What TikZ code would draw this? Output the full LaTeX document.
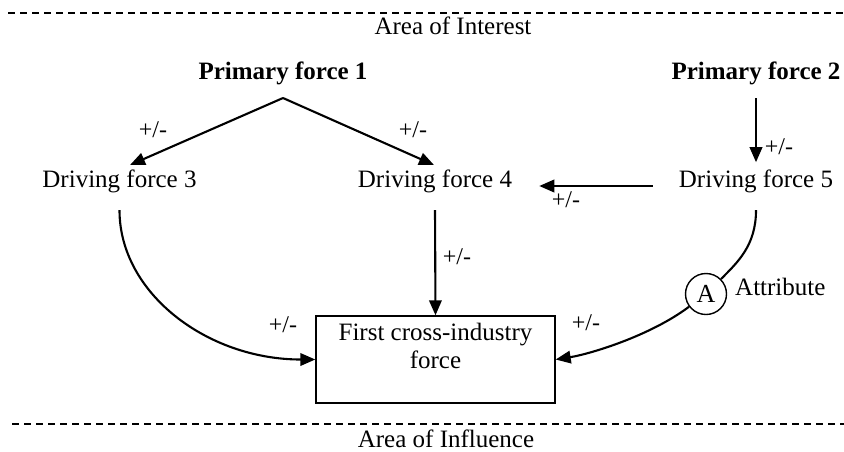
\documentclass[tikz,border=0pt]{standalone}
\usepackage{fontspec}
\setmainfont{Liberation Serif}
\usetikzlibrary{arrows.meta}
\begin{document}
\begin{tikzpicture}[x=1pt,y=-1pt,
  txt/.style={inner sep=0pt,anchor=base,font=\fontsize{25}{28}\selectfont},
  btxt/.style={txt,font=\fontsize{25}{28}\selectfont\bfseries},
  pm/.style={inner sep=0pt,font=\fontsize{24}{26}\selectfont},
  arr/.style={line width=2.1pt,-{Triangle[length=15pt,width=12.5pt]}},
  area/.style={dashed,dash pattern=on 7pt off 5pt,line width=1.4pt}]
\useasboundingbox (0,0) rectangle (844,451);
% area lines
\coordinate (tl) at (8,13);
\coordinate (tr) at (844,13);
\coordinate (bl) at (12,424);
\coordinate (br) at (844,424);
\draw[area] (tl) -- (tr);
\draw[area] (bl) -- (br);
\node[txt] (aoi) at (453,34) {Area of Interest};
\node[txt] (aoinf) at (446,447) {Area of Influence};
% nodes
\node[btxt] (p1) at (283,79) {Primary force 1};
\node[btxt] (p2) at (756,79) {Primary force 2};
\node[txt] (d3) at (119.5,187) {Driving force 3};
\node[txt] (d4) at (435,187) {Driving force 4};
\node[txt] (d5) at (756,187) {Driving force 5};
\node[draw,line width=1.4pt,minimum width=239pt,minimum height=87pt,inner sep=0pt,
  align=center,font=\fontsize{25}{28}\selectfont] (box) at (435.5,359.5)
  {First cross-industry\\force\\\mbox{}};
\node[circle,draw,line width=1.4pt,fill=white,minimum size=41pt,inner sep=0pt,
  font=\fontsize{26}{28}\selectfont] (A) at (706,294) {A};
\node[txt,anchor=base west] (attr) at (735,295) {Attribute};
% connectors
\coordinate (apex) at (283,98);
\coordinate (t3) at (130,165);
\coordinate (t4) at (434,165);
\draw[arr] (apex) -- (t3);
\draw[arr] (apex) -- (t4);
\draw[arr,shorten <=13.5pt,shorten >=7pt] (p2.south) -- (d5.north);
\draw[arr] ([xshift=-26pt,yshift=1pt]d5.base west) -- ([xshift=27pt,yshift=1pt]d4.base east);
\draw[arr] ([yshift=-17.6pt]d3.south) .. controls +(0,83) and +(-108,0) .. (box.west);
\draw[arr] ([yshift=-17.6pt]d4.south) -- (box.north);
\draw[line width=2.1pt] ([yshift=-17.6pt]d5.south) .. controls +(0,35) and (738,262) .. (A);
\draw[arr] (A) .. controls (650,336) and (590,354) .. (box.east);
% +/- labels
\node[pm] (l1) at (153,130) {+/-};
\node[pm] (l2) at (413,130) {+/-};
\node[pm] (l3) at (779,147) {+/-};
\node[pm] (l4) at (566,200) {+/-};
\node[pm] (l5) at (457,257) {+/-};
\node[pm] (l6) at (283,325) {+/-};
\node[pm] (l7) at (586,323) {+/-};
\end{tikzpicture}
\end{document}
